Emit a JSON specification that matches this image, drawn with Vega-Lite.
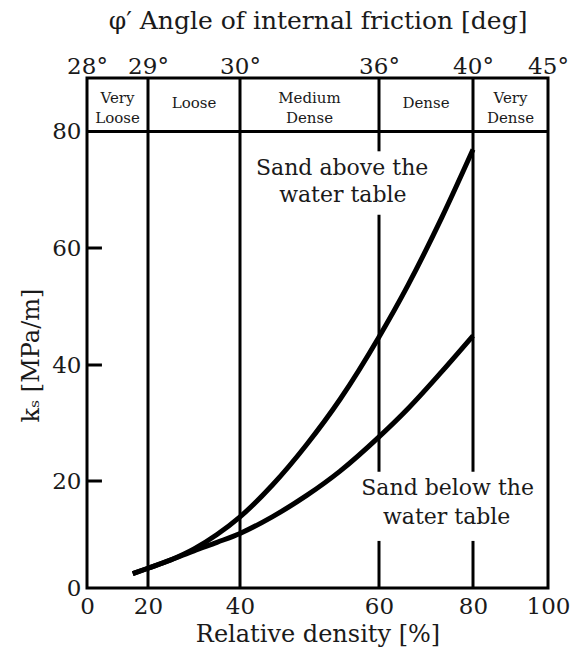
{
  "$schema": "https://vega.github.io/schema/vega-lite/v6.json",
  "width": 461,
  "height": 510,
  "autosize": {"type": "none"},
  "padding": {"left": 87, "top": 78, "right": 23, "bottom": 62},
  "background": "white",
  "config": {
    "font": "DejaVu Serif",
    "view": {"stroke": "#000", "strokeWidth": 3},
    "axis": {
      "labelFont": "DejaVu Serif",
      "titleFont": "DejaVu Serif",
      "labelColor": "#1a1a1a",
      "titleColor": "#1a1a1a",
      "titleFontWeight": "normal",
      "labelFontSize": 23,
      "titleFontSize": 24,
      "grid": false,
      "domain": false
    }
  },
  "datasets": {
    "curves": [
      {"series": "above", "d": 15, "k": 2.67},
      {"series": "above", "d": 20, "k": 3.69},
      {"series": "above", "d": 25, "k": 5.27},
      {"series": "above", "d": 30, "k": 7.31},
      {"series": "above", "d": 35, "k": 10.0},
      {"series": "above", "d": 40, "k": 13.3},
      {"series": "above", "d": 44.7, "k": 19.3},
      {"series": "above", "d": 49.6, "k": 26.3},
      {"series": "above", "d": 54.4, "k": 34.1},
      {"series": "above", "d": 60, "k": 44.8},
      {"series": "above", "d": 66.2, "k": 53.7},
      {"series": "above", "d": 73.4, "k": 65.3},
      {"series": "above", "d": 80, "k": 76.9},
      {"series": "below", "d": 15, "k": 2.67},
      {"series": "below", "d": 20, "k": 3.69},
      {"series": "below", "d": 25, "k": 5.27},
      {"series": "below", "d": 30, "k": 6.95},
      {"series": "below", "d": 35, "k": 8.54},
      {"series": "below", "d": 40, "k": 10.2},
      {"series": "below", "d": 44.7, "k": 13.35},
      {"series": "below", "d": 49.6, "k": 17.3},
      {"series": "below", "d": 54.4, "k": 21.7},
      {"series": "below", "d": 60, "k": 27.6},
      {"series": "below", "d": 66.2, "k": 32.5},
      {"series": "below", "d": 73.4, "k": 38.9},
      {"series": "below", "d": 80, "k": 45.0}
    ],
    "dividers": [
      {"d": 20, "k1": 0, "k2": 90},
      {"d": 40, "k1": 0, "k2": 90},
      {"d": 60, "k1": 0, "k2": 8.8},
      {"d": 60, "k1": 21.6, "k2": 65.7},
      {"d": 60, "k1": 76.6, "k2": 90},
      {"d": 80, "k1": 0, "k2": 8.8},
      {"d": 80, "k1": 21.6, "k2": 90}
    ],
    "yticks": [
      {"d1": 0, "d2": 4.9, "k": 20},
      {"d1": 0, "d2": 4.9, "k": 40},
      {"d1": 0, "d2": 4.9, "k": 60}
    ],
    "classes": [
      {"d": 10, "k": 86.3, "label": "Very"},
      {"d": 10, "k": 82.6, "label": "Loose"},
      {"d": 30, "k": 85.4, "label": "Loose"},
      {"d": 50, "k": 86.3, "label": "Medium"},
      {"d": 50, "k": 82.6, "label": "Dense"},
      {"d": 70, "k": 85.4, "label": "Dense"},
      {"d": 90, "k": 86.3, "label": "Very"},
      {"d": 90, "k": 82.6, "label": "Dense"}
    ],
    "notes": [
      {"d": 54.7, "k": 73.8, "label": "Sand above the"},
      {"d": 54.8, "k": 69.1, "label": "water table"},
      {"d": 74.6, "k": 18.7, "label": "Sand below the"},
      {"d": 74.4, "k": 13.3, "label": "water table"}
    ]
  },
  "layer": [
    {
      "data": {"name": "dividers"},
      "mark": {"type": "rule", "color": "#000", "strokeWidth": 3},
      "encoding": {
        "x": {
          "field": "d", "type": "quantitative",
          "scale": {"domain": [0, 20, 40, 60, 80, 100], "range": [0, 61, 153, 292, 386, 461]},
          "axis": {
            "orient": "bottom", "values": [0, 20, 40, 60, 80, 100], "ticks": false,
            "labelPadding": 7, "labelBaseline": "top", "labelFlush": false,
            "title": "Relative density [%]", "titleY": 53, "titleBaseline": "alphabetic"
          }
        },
        "y": {
          "field": "k1", "type": "quantitative",
          "scale": {"domain": [0, 20, 40, 60, 80, 90], "range": [510, 403, 287, 170, 53.5, 0]},
          "axis": {
            "values": [0, 20, 40, 60, 80], "ticks": false,
            "labelPadding": 6, "labelFlush": false,
            "title": "kₛ [MPa/m]", "titleX": -44, "titleY": 277,
            "titleAlign": "center", "titleBaseline": "bottom"
          }
        },
        "y2": {"field": "k2"}
      }
    },
    {
      "data": {"name": "yticks"},
      "mark": {"type": "rule", "color": "#000", "strokeWidth": 3},
      "encoding": {
        "x": {"field": "d1", "type": "quantitative", "axis": null,
              "scale": {"domain": [0, 20, 40, 60, 80, 100], "range": [0, 61, 153, 292, 386, 461]}},
        "x2": {"field": "d2"},
        "y": {"field": "k", "type": "quantitative",
              "scale": {"domain": [0, 20, 40, 60, 80, 90], "range": [510, 403, 287, 170, 53.5, 0]}}
      }
    },
    {
      "data": {"values": [{"k": 80}]},
      "mark": {"type": "rule", "color": "#000", "strokeWidth": 3},
      "encoding": {
        "y": {"field": "k", "type": "quantitative",
              "scale": {"domain": [0, 20, 40, 60, 80, 90], "range": [510, 403, 287, 170, 53.5, 0]}}
      }
    },
    {
      "data": {"name": "curves"},
      "mark": {"type": "line", "color": "#000", "strokeWidth": 5, "interpolate": "monotone"},
      "encoding": {
        "x": {"field": "d", "type": "quantitative", "axis": null,
              "scale": {"domain": [0, 20, 40, 60, 80, 100], "range": [0, 61, 153, 292, 386, 461]}},
        "y": {"field": "k", "type": "quantitative",
              "scale": {"domain": [0, 20, 40, 60, 80, 90], "range": [510, 403, 287, 170, 53.5, 0]}},
        "detail": {"field": "series"}
      }
    },
    {
      "data": {"name": "classes"},
      "mark": {"type": "text", "font": "DejaVu Serif", "fontSize": 15, "color": "#1a1a1a", "align": "center", "baseline": "middle"},
      "encoding": {
        "x": {
          "field": "d", "type": "quantitative",
          "scale": {"domain": [0, 20, 40, 60, 80, 100], "range": [0, 61, 153, 292, 386, 461]},
          "axis": {
            "orient": "top", "values": [0, 20, 40, 60, 80, 100], "ticks": false,
            "labelPadding": 5, "labelBaseline": "alphabetic", "labelFlush": false,
            "labelExpr": "({'0': '28°', '20': '29°', '40': '30°', '60': '36°', '80': '40°', '100': '45°'})[datum.label]",
            "title": "φ′  Angle of internal friction [deg]", "titleFontSize": 25,
            "titleY": -50, "titleBaseline": "alphabetic"
          }
        },
        "y": {"field": "k", "type": "quantitative",
              "scale": {"domain": [0, 20, 40, 60, 80, 90], "range": [510, 403, 287, 170, 53.5, 0]}},
        "text": {"field": "label"}
      }
    },
    {
      "data": {"name": "notes"},
      "mark": {"type": "text", "font": "DejaVu Serif", "fontSize": 22, "color": "#1a1a1a", "align": "center", "baseline": "middle"},
      "encoding": {
        "x": {"field": "d", "type": "quantitative", "axis": null,
              "scale": {"domain": [0, 20, 40, 60, 80, 100], "range": [0, 61, 153, 292, 386, 461]}},
        "y": {"field": "k", "type": "quantitative",
              "scale": {"domain": [0, 20, 40, 60, 80, 90], "range": [510, 403, 287, 170, 53.5, 0]}},
        "text": {"field": "label"}
      }
    }
  ],
  "resolve": {"axis": {"x": "independent"}}
}
